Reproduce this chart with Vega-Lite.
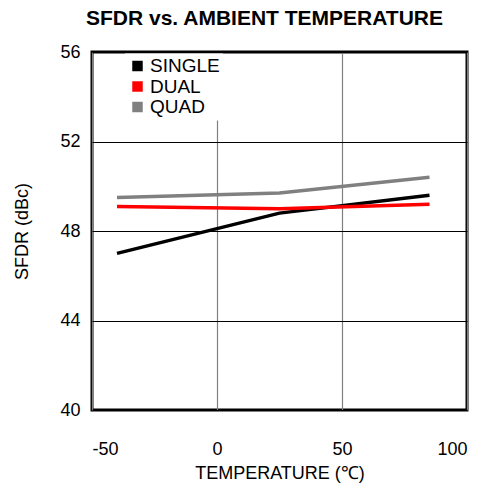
{
  "$schema": "https://vega.github.io/schema/vega-lite/v6.json",
  "width": 375,
  "height": 358,
  "autosize": "none",
  "padding": {"left": 92, "top": 52, "right": 20, "bottom": 73},
  "background": "white",
  "title": {"text": "SFDR vs. AMBIENT TEMPERATURE", "font": "Liberation Sans", "fontSize": 21, "fontWeight": "bold", "color": "black", "offset": 14, "anchor": "middle", "dx": -15},
  "config": {
    "view": {"stroke": "black", "strokeWidth": 3},
    "font": "Liberation Sans"
  },
  "data": {"values": [
    {"temp": -40, "sfdr": 47.0, "mode": "SINGLE"},
    {"temp": 25, "sfdr": 48.8, "mode": "SINGLE"},
    {"temp": 85, "sfdr": 49.6, "mode": "SINGLE"},
    {"temp": -40, "sfdr": 49.1, "mode": "DUAL"},
    {"temp": 25, "sfdr": 49.0, "mode": "DUAL"},
    {"temp": 85, "sfdr": 49.2, "mode": "DUAL"},
    {"temp": -40, "sfdr": 49.5, "mode": "QUAD"},
    {"temp": 25, "sfdr": 49.7, "mode": "QUAD"},
    {"temp": 85, "sfdr": 50.4, "mode": "QUAD"}
  ]},
  "layer": [
    {
      "mark": {"type": "line", "strokeWidth": 3.5},
      "encoding": {
        "x": {"field": "temp", "type": "quantitative", "scale": {"domain": [-50, 100], "nice": false},
          "axis": {"values": [-50, 0, 50, 100], "labelExpr": "toString(datum.value)", "title": "TEMPERATURE (℃)", "titleFont": "Liberation Sans", "titleFontSize": 18, "titleFontWeight": "normal", "titleColor": "black", "titlePadding": 6,
            "labelFont": "Liberation Sans", "labelFontSize": 18, "labelColor": "black", "labelPadding": 30, "ticks": false, "domain": false,
            "grid": true, "gridColor": "#808080", "gridWidth": 1.2, "gridOpacity": 1}},
        "y": {"field": "sfdr", "type": "quantitative", "scale": {"domain": [40, 56], "nice": false},
          "axis": {"values": [40, 44, 48, 52, 56], "title": "SFDR (dBc)", "titleFont": "Liberation Sans", "titleFontSize": 18, "titleFontWeight": "normal", "titleColor": "black", "titlePadding": 28,
            "labelFont": "Liberation Sans", "labelFontSize": 18, "labelColor": "black", "labelPadding": 12, "ticks": false, "domain": false,
            "grid": true, "gridColor": "black", "gridWidth": 1.2, "gridOpacity": 1}},
        "color": {"field": "mode", "type": "nominal",
          "scale": {"domain": ["SINGLE", "DUAL", "QUAD"], "range": ["black", "#ff0000", "#808080"]},
          "legend": {"title": null, "orient": "none", "legendX": 33, "legendY": 1.5, "fillColor": "white", "padding": 3,
            "symbolType": "square", "symbolSize": 110, "symbolStrokeWidth": 0, "symbolOpacity": 1,
            "labelFont": "Liberation Sans", "labelFontSize": 19, "labelColor": "black", "labelOffset": 3, "rowPadding": 0.5,
            "encode": {"symbols": {"update": {"fill": {"scale": "color", "field": "value"}, "shape": {"value": "square"}, "size": {"value": 110}, "strokeWidth": {"value": 0}, "opacity": {"value": 1}}}}}}
      }
    }
  ]
}
